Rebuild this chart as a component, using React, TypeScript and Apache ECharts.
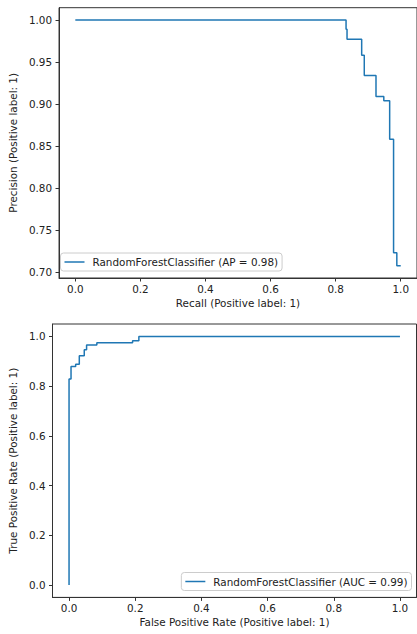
import React, { useEffect, useRef } from 'react';
import * as echarts from 'echarts';

// Precision-recall curve (step corners, left to right)
const prRecall = [0, 0.832, 0.835, 0.88, 0.888, 0.924, 0.948, 0.966, 0.978, 0.988, 1.0];
const prPrecision = [1.0, 0.989, 0.977, 0.958, 0.934, 0.909, 0.904, 0.858, 0.723, 0.7075, 0.7075];

// ROC curve corners
const rocFpr = [0, 0, 0.006, 0.02, 0.031, 0.046, 0.053, 0.084, 0.192, 0.211, 1.0];
const rocTpr = [0, 0.829, 0.879, 0.888, 0.922, 0.946, 0.966, 0.975, 0.983, 1.0, 1.0];

const prXTicks = [0, 0.2, 0.4, 0.6, 0.8, 1.0];
const prYTicks = [0.7, 0.75, 0.8, 0.85, 0.9, 0.95, 1.0];
const rocXTicks = [0, 0.2, 0.4, 0.6, 0.8, 1.0];
const rocYTicks = [0, 0.2, 0.4, 0.6, 0.8, 1.0];

const prName = 'RandomForestClassifier (AP = 0.98)';
const rocName = 'RandomForestClassifier (AUC = 0.99)';
const prXLabel = 'Recall (Positive label: 1)';
const prYLabel = 'Precision (Positive label: 1)';
const rocXLabel = 'False Positive Rate (Positive label: 1)';
const rocYLabel = 'True Positive Rate (Positive label: 1)';

const FONT = 'DejaVu Sans';
const FS = 10.4;
const TXT = '#222';
const BLUE = '#1f77b4';

function axis(kind: 'x' | 'y', gridIndex: number, min: number, max: number, ticks: number[], digits: number, name: string, nameGap: number) {
  return {
    type: 'value',
    gridIndex,
    min,
    max,
    name,
    nameLocation: 'middle',
    nameGap,
    nameTextStyle: { fontFamily: FONT, fontSize: FS, color: TXT },
    axisLine: { show: true, onZero: false, lineStyle: { color: '#333', width: 1 } },
    axisTick: { show: true, customValues: ticks, length: 3.5, lineStyle: { color: '#333', width: 1 } },
    axisLabel: {
      show: true,
      customValues: ticks,
      formatter: (v: number) => v.toFixed(digits),
      margin: kind === 'x' ? 6 : 7,
      fontFamily: FONT,
      fontSize: FS,
      color: TXT,
    },
    splitLine: { show: false },
  };
}

export default function App() {
  const ref = useRef<HTMLDivElement>(null);
  useEffect(() => {
    if (!ref.current) return;
    const chart = echarts.init(ref.current, undefined, { renderer: 'svg' });
    const prData = prRecall.map((r, i) => [r, prPrecision[i]]);
    const rocData = rocFpr.map((f, i) => [f, rocTpr[i]]);
    const legendBase = {
      orient: 'horizontal',
      backgroundColor: 'rgba(255,255,255,0.8)',
      borderColor: '#cccccc',
      borderWidth: 1,
      borderRadius: 3,
      padding: [4, 4, 4, 4],
      itemWidth: 20,
      itemHeight: 1.5,
      icon: 'rect',
      textStyle: { fontFamily: FONT, fontSize: FS, color: TXT, padding: [0, 0, 0, 3] },
    };
    chart.setOption({
      animation: false,
      backgroundColor: '#ffffff',
      grid: [
        { left: 55.4, top: 7.7, width: 365.2, height: 270.3, show: true, borderColor: '#333', borderWidth: 1, backgroundColor: 'transparent' },
        { left: 52.5, top: 324, width: 364, height: 273.4, show: true, borderColor: '#333', borderWidth: 1, backgroundColor: 'transparent' },
      ],
      xAxis: [
        axis('x', 0, -0.05, 1.05, prXTicks, 1, prXLabel, 20),
        axis('x', 1, -0.05, 1.05, rocXTicks, 1, rocXLabel, 20),
      ],
      yAxis: [
        axis('y', 0, 0.6929, 1.0146, prYTicks, 2, prYLabel, 30.5),
        axis('y', 1, -0.05, 1.05, rocYTicks, 1, rocYLabel, 23),
      ],
      legend: [
        { ...legendBase, data: [prName], left: 60.5, top: 253 },
        { ...legendBase, data: [rocName], right: 5.5, top: 572.5 },
      ],
      series: [
        {
          type: 'line',
          name: prName,
          xAxisIndex: 0,
          yAxisIndex: 0,
          data: prData,
          step: 'end',
          showSymbol: false,
          symbol: 'none',
          lineStyle: { color: BLUE, width: 1.5 },
          itemStyle: { color: BLUE },
        },
        {
          type: 'line',
          name: rocName,
          xAxisIndex: 1,
          yAxisIndex: 1,
          data: rocData,
          step: 'end',
          showSymbol: false,
          symbol: 'none',
          lineStyle: { color: BLUE, width: 1.5 },
          itemStyle: { color: BLUE },
        },
      ],
    });
    return () => chart.dispose();
  }, []);
  return <div ref={ref} style={{ position: 'fixed', left: 0, top: 0, width: 417, height: 634 }} />;
}
